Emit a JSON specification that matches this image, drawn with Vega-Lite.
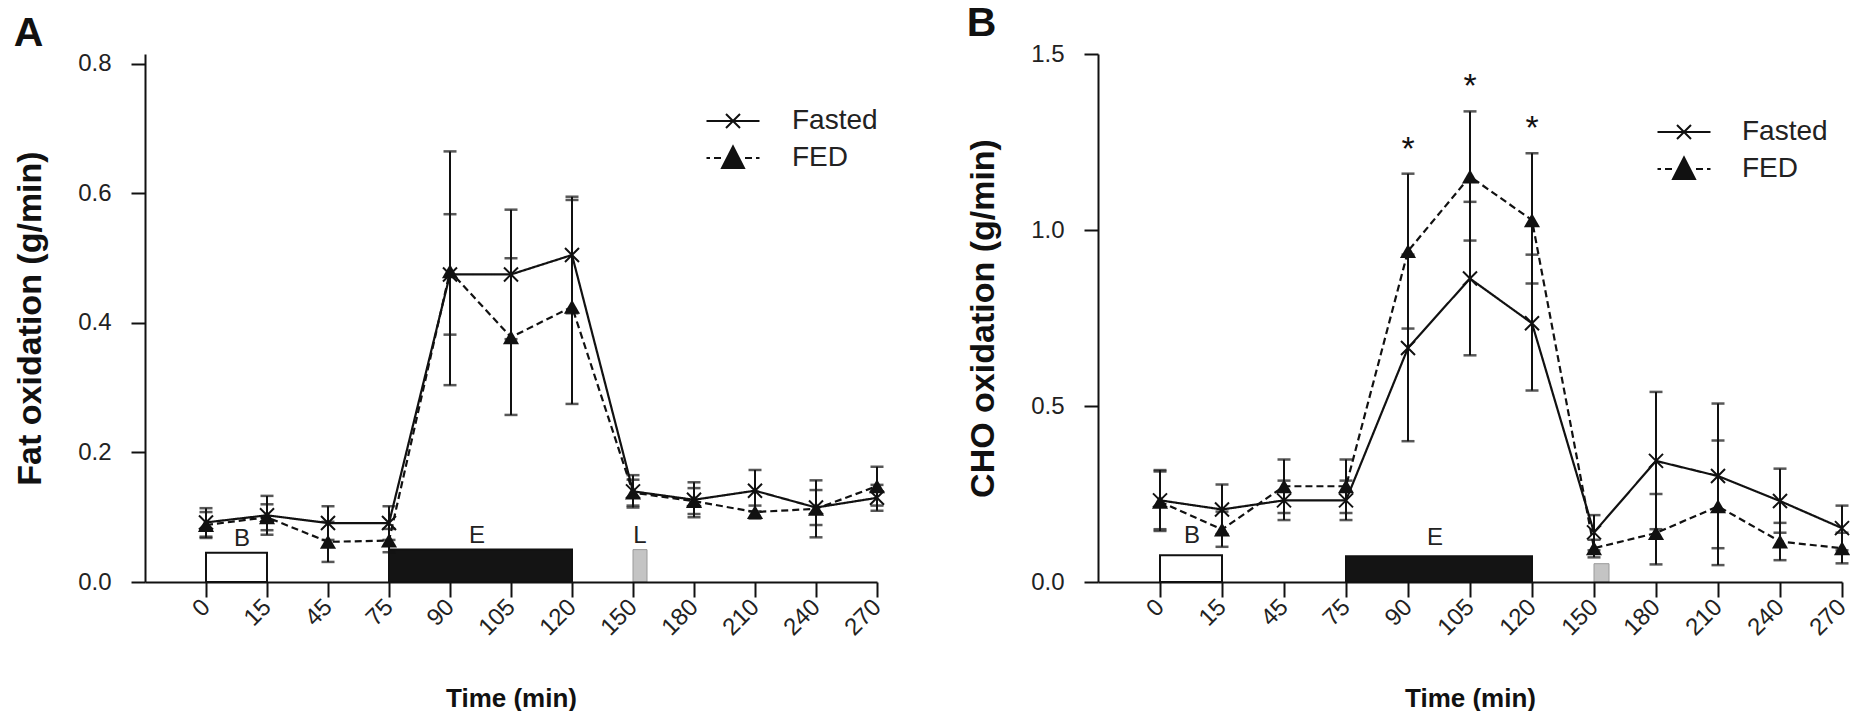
{
  "$schema": "https://vega.github.io/schema/vega-lite/v6.json",
  "background": "white",
  "padding": {"left": 13, "top": 3, "right": 0, "bottom": 0},
  "datasets": {
    "fat": [
      {"t": 0, "series": "Fasted", "v": 0.092, "lo": 0.070, "hi": 0.114},
      {"t": 15, "series": "Fasted", "v": 0.103, "lo": 0.073, "hi": 0.133},
      {"t": 45, "series": "Fasted", "v": 0.091, "lo": 0.065, "hi": 0.117},
      {"t": 75, "series": "Fasted", "v": 0.091, "lo": 0.065, "hi": 0.117},
      {"t": 90, "series": "Fasted", "v": 0.475, "lo": 0.382, "hi": 0.568},
      {"t": 105, "series": "Fasted", "v": 0.475, "lo": 0.375, "hi": 0.575},
      {"t": 120, "series": "Fasted", "v": 0.505, "lo": 0.415, "hi": 0.595},
      {"t": 150, "series": "Fasted", "v": 0.140, "lo": 0.115, "hi": 0.165},
      {"t": 180, "series": "Fasted", "v": 0.127, "lo": 0.100, "hi": 0.154},
      {"t": 210, "series": "Fasted", "v": 0.141, "lo": 0.109, "hi": 0.173},
      {"t": 240, "series": "Fasted", "v": 0.115, "lo": 0.088, "hi": 0.142},
      {"t": 270, "series": "Fasted", "v": 0.130, "lo": 0.110, "hi": 0.150},
      {"t": 0, "series": "FED", "v": 0.088, "lo": 0.068, "hi": 0.108},
      {"t": 15, "series": "FED", "v": 0.100, "lo": 0.080, "hi": 0.120},
      {"t": 45, "series": "FED", "v": 0.062, "lo": 0.031, "hi": 0.093},
      {"t": 75, "series": "FED", "v": 0.064, "lo": 0.046, "hi": 0.082},
      {"t": 90, "series": "FED", "v": 0.480, "lo": 0.304, "hi": 0.665},
      {"t": 105, "series": "FED", "v": 0.378, "lo": 0.258, "hi": 0.500},
      {"t": 120, "series": "FED", "v": 0.425, "lo": 0.275, "hi": 0.590},
      {"t": 150, "series": "FED", "v": 0.138, "lo": 0.118, "hi": 0.158},
      {"t": 180, "series": "FED", "v": 0.125, "lo": 0.105, "hi": 0.145},
      {"t": 210, "series": "FED", "v": 0.108, "lo": 0.098, "hi": 0.118},
      {"t": 240, "series": "FED", "v": 0.113, "lo": 0.069, "hi": 0.157},
      {"t": 270, "series": "FED", "v": 0.148, "lo": 0.118, "hi": 0.178}
    ],
    "cho": [
      {"t": 0, "series": "Fasted", "v": 0.232, "lo": 0.150, "hi": 0.314, "sig": ""},
      {"t": 15, "series": "Fasted", "v": 0.206, "lo": 0.136, "hi": 0.277, "sig": ""},
      {"t": 45, "series": "Fasted", "v": 0.232, "lo": 0.176, "hi": 0.288, "sig": ""},
      {"t": 75, "series": "Fasted", "v": 0.232, "lo": 0.176, "hi": 0.288, "sig": ""},
      {"t": 90, "series": "Fasted", "v": 0.665, "lo": 0.400, "hi": 0.930, "sig": ""},
      {"t": 105, "series": "Fasted", "v": 0.862, "lo": 0.644, "hi": 1.080, "sig": ""},
      {"t": 120, "series": "Fasted", "v": 0.735, "lo": 0.544, "hi": 0.930, "sig": ""},
      {"t": 150, "series": "Fasted", "v": 0.141, "lo": 0.090, "hi": 0.190, "sig": ""},
      {"t": 180, "series": "Fasted", "v": 0.344, "lo": 0.150, "hi": 0.540, "sig": ""},
      {"t": 210, "series": "Fasted", "v": 0.301, "lo": 0.096, "hi": 0.507, "sig": ""},
      {"t": 240, "series": "Fasted", "v": 0.230, "lo": 0.140, "hi": 0.322, "sig": ""},
      {"t": 270, "series": "Fasted", "v": 0.153, "lo": 0.090, "hi": 0.217, "sig": ""},
      {"t": 0, "series": "FED", "v": 0.228, "lo": 0.145, "hi": 0.318, "sig": ""},
      {"t": 15, "series": "FED", "v": 0.149, "lo": 0.100, "hi": 0.200, "sig": ""},
      {"t": 45, "series": "FED", "v": 0.272, "lo": 0.196, "hi": 0.348, "sig": ""},
      {"t": 75, "series": "FED", "v": 0.272, "lo": 0.196, "hi": 0.348, "sig": ""},
      {"t": 90, "series": "FED", "v": 0.940, "lo": 0.720, "hi": 1.160, "sig": "*"},
      {"t": 105, "series": "FED", "v": 1.152, "lo": 0.970, "hi": 1.337, "sig": "*"},
      {"t": 120, "series": "FED", "v": 1.028, "lo": 0.848, "hi": 1.218, "sig": "*"},
      {"t": 150, "series": "FED", "v": 0.096, "lo": 0.070, "hi": 0.120, "sig": ""},
      {"t": 180, "series": "FED", "v": 0.139, "lo": 0.050, "hi": 0.250, "sig": ""},
      {"t": 210, "series": "FED", "v": 0.215, "lo": 0.048, "hi": 0.402, "sig": ""},
      {"t": 240, "series": "FED", "v": 0.115, "lo": 0.062, "hi": 0.168, "sig": ""},
      {"t": 270, "series": "FED", "v": 0.096, "lo": 0.053, "hi": 0.140, "sig": ""}
    ],
    "phasesA": [
      {"lab": "B", "t": 0, "t2": 15, "h": 0.045},
      {"lab": "E", "t": 75, "t2": 120, "h": 0.05},
      {"lab": "L", "t": 150, "t2": 150, "h": 0.05}
    ],
    "phasesB": [
      {"lab": "B", "t": 0, "t2": 15, "h": 0.076},
      {"lab": "E", "t": 75, "t2": 120, "h": 0.073},
      {"lab": "L", "t": 150, "t2": 150, "h": 0.052}
    ]
  },
  "hconcat": [
    {
      "width": 732,
      "height": 528,
      "title": {"text": "A", "anchor": "start", "frame": "bounds", "fontSize": 41, "fontWeight": "bold", "offset": -3, "color": "#111"},
      "layer": [
        {
          "data": {"name": "phasesA"},
          "transform": [{"filter": "datum.lab != 'L'"}],
          "mark": {"type": "rect", "stroke": "#111", "strokeWidth": 2},
          "encoding": {
            "x": {"field": "t", "type": "ordinal", "scale": {"type": "point", "domain": [0, 15, 45, 75, 90, 105, 120, 150, 180, 210, 240, 270], "padding": 0.5, "align": 1},
              "axis": {"title": "Time (min)", "titleFontSize": 26, "titleFontWeight": "bold", "titleY": 124, "titleBaseline": "alphabetic", "labelAngle": -45, "labelAlign": "right", "labelBaseline": "middle", "tickSize": 15, "labelPadding": 6, "labelOverlap": false}},
            "x2": {"field": "t2"},
            "y": {"field": "h", "type": "quantitative", "scale": {"domain": [0, 0.8154], "nice": false, "zero": true},
              "axis": {"title": "Fat oxidation (g/min)", "titleFontSize": 34, "titleFontWeight": "bold", "titlePadding": 30, "values": [0, 0.2, 0.4, 0.6, 0.8], "format": ".1f", "tickSize": 14, "labelPadding": 20, "labelFlush": false}},
            "y2": {"datum": 0},
            "fill": {"field": "lab", "type": "nominal", "scale": {"domain": ["B", "E"], "range": ["white", "#141414"]}, "legend": null}
          }
        },
        {
          "data": {"name": "phasesA"},
          "transform": [{"filter": "datum.lab == 'L'"}],
          "mark": {"type": "rect", "fill": "#c4c4c4", "stroke": "#9a9a9a", "strokeWidth": 1, "x2Offset": 14},
          "encoding": {
            "x": {"field": "t", "type": "ordinal"},
            "x2": {"field": "t2"},
            "y": {"field": "h", "type": "quantitative"},
            "y2": {"datum": 0}
          }
        },
        {
          "data": {"name": "phasesA"},
          "transform": [{"filter": "datum.lab == 'B'"}],
          "mark": {"type": "text", "fontSize": 24, "color": "#222", "dx": 36, "dy": -7, "baseline": "alphabetic"},
          "encoding": {"x": {"field": "t", "type": "ordinal"}, "y": {"field": "h", "type": "quantitative"}, "text": {"field": "lab"}}
        },
        {
          "data": {"name": "phasesA"},
          "transform": [{"filter": "datum.lab == 'E'"}],
          "mark": {"type": "text", "fontSize": 24, "color": "#222", "dx": 88, "dy": -7, "baseline": "alphabetic"},
          "encoding": {"x": {"field": "t", "type": "ordinal"}, "y": {"field": "h", "type": "quantitative"}, "text": {"field": "lab"}}
        },
        {
          "data": {"name": "phasesA"},
          "transform": [{"filter": "datum.lab == 'L'"}],
          "mark": {"type": "text", "fontSize": 24, "color": "#222", "dx": 7, "dy": -7, "baseline": "alphabetic"},
          "encoding": {"x": {"field": "t", "type": "ordinal"}, "y": {"field": "h", "type": "quantitative"}, "text": {"field": "lab"}}
        },
        {
          "data": {"name": "fat"},
          "mark": {"type": "rule", "color": "#111", "strokeWidth": 2},
          "encoding": {"x": {"field": "t", "type": "ordinal"}, "y": {"field": "lo", "type": "quantitative"}, "y2": {"field": "hi"}}
        },
        {
          "data": {"name": "fat"},
          "mark": {"type": "tick", "orient": "horizontal", "color": "#111", "size": 13, "thickness": 2.5},
          "encoding": {"x": {"field": "t", "type": "ordinal"}, "y": {"field": "lo", "type": "quantitative"}}
        },
        {
          "data": {"name": "fat"},
          "mark": {"type": "tick", "orient": "horizontal", "color": "#111", "size": 13, "thickness": 2.5},
          "encoding": {"x": {"field": "t", "type": "ordinal"}, "y": {"field": "hi", "type": "quantitative"}}
        },
        {
          "data": {"name": "fat"},
          "mark": {"type": "line", "color": "#111", "strokeWidth": 2.2},
          "encoding": {
            "x": {"field": "t", "type": "ordinal"},
            "y": {"field": "v", "type": "quantitative"},
            "detail": {"field": "series"},
            "strokeDash": {"field": "series", "type": "nominal", "scale": {"domain": ["Fasted", "FED"], "range": [[1, 0], [7, 4]]}, "legend": null}
          }
        },
        {
          "data": {"name": "fat"},
          "transform": [{"filter": "datum.series == 'FED'"}],
          "mark": {"type": "point", "shape": "triangle-up", "filled": true, "color": "#111", "size": 260, "opacity": 1},
          "encoding": {"x": {"field": "t", "type": "ordinal"}, "y": {"field": "v", "type": "quantitative"}}
        },
        {
          "data": {"name": "fat"},
          "transform": [{"filter": "datum.series == 'Fasted'"}],
          "mark": {"type": "point", "shape": "M-1,-1L1,1M-1,1L1,-1", "filled": false, "color": "#111", "strokeWidth": 2, "size": 196, "opacity": 1},
          "encoding": {"x": {"field": "t", "type": "ordinal"}, "y": {"field": "v", "type": "quantitative"}}
        },
        {
          "data": {"name": "fat"},
          "transform": [{"filter": "datum.t < 0"}],
          "mark": {"type": "point", "filled": false, "color": "#111", "strokeWidth": 2, "opacity": 1},
          "encoding": {
            "shape": {"field": "series", "type": "nominal",
              "scale": {"domain": ["Fasted", "FED"], "range": ["M-2.65,0H2.65M-0.7,-0.7L0.7,0.7M-0.7,0.7L0.7,-0.7", "M-2.65,0H-2.3M-1.9,0H-1.2M1.2,0H1.9M2.3,0H2.65M-1.1,1L0,-1.15L1.1,1ZM-0.13,-0.9H0.13M-0.23,-0.7H0.23M-0.33,-0.5H0.33M-0.44,-0.3H0.44M-0.54,-0.1H0.54M-0.64,0.1H0.64M-0.74,0.3H0.74M-0.84,0.5H0.84M-0.95,0.7H0.95M-1.05,0.9H1.05"]},
              "legend": {"title": null, "orient": "none", "legendX": 574, "legendY": 53, "padding": 0, "symbolSize": 400, "symbolStrokeWidth": 2, "symbolStrokeColor": "#111", "labelFontSize": 28, "labelColor": "#222", "labelOffset": 45, "rowPadding": 7}}
          }
        }
      ]
    },
    {
      "width": 744,
      "height": 528,
      "title": {"text": "B", "anchor": "start", "frame": "bounds", "fontSize": 41, "fontWeight": "bold", "offset": -3, "color": "#111"},
      "layer": [
        {
          "data": {"name": "phasesB"},
          "transform": [{"filter": "datum.lab != 'L'"}],
          "mark": {"type": "rect", "stroke": "#111", "strokeWidth": 2},
          "encoding": {
            "x": {"field": "t", "type": "ordinal", "scale": {"type": "point", "domain": [0, 15, 45, 75, 90, 105, 120, 150, 180, 210, 240, 270], "padding": 0.5, "align": 1},
              "axis": {"title": "Time (min)", "titleFontSize": 26, "titleFontWeight": "bold", "titleY": 124, "titleBaseline": "alphabetic", "labelAngle": -45, "labelAlign": "right", "labelBaseline": "middle", "tickSize": 15, "labelPadding": 6, "labelOverlap": false}},
            "x2": {"field": "t2"},
            "y": {"field": "h", "type": "quantitative", "scale": {"domain": [0, 1.5], "nice": false, "zero": true},
              "axis": {"title": "CHO oxidation (g/min)", "titleFontSize": 34, "titleFontWeight": "bold", "titlePadding": 30, "values": [0, 0.5, 1.0, 1.5], "format": ".1f", "tickSize": 14, "labelPadding": 20, "labelFlush": false}},
            "y2": {"datum": 0},
            "fill": {"field": "lab", "type": "nominal", "scale": {"domain": ["B", "E"], "range": ["white", "#141414"]}, "legend": null}
          }
        },
        {
          "data": {"name": "phasesB"},
          "transform": [{"filter": "datum.lab == 'L'"}],
          "mark": {"type": "rect", "fill": "#c4c4c4", "stroke": "#9a9a9a", "strokeWidth": 1, "x2Offset": 15},
          "encoding": {
            "x": {"field": "t", "type": "ordinal"},
            "x2": {"field": "t2"},
            "y": {"field": "h", "type": "quantitative"},
            "y2": {"datum": 0}
          }
        },
        {
          "data": {"name": "phasesB"},
          "transform": [{"filter": "datum.lab == 'B'"}],
          "mark": {"type": "text", "fontSize": 24, "color": "#222", "dx": 32, "dy": -12, "baseline": "alphabetic"},
          "encoding": {"x": {"field": "t", "type": "ordinal"}, "y": {"field": "h", "type": "quantitative"}, "text": {"field": "lab"}}
        },
        {
          "data": {"name": "phasesB"},
          "transform": [{"filter": "datum.lab == 'E'"}],
          "mark": {"type": "text", "fontSize": 24, "color": "#222", "dx": 89, "dy": -11, "baseline": "alphabetic"},
          "encoding": {"x": {"field": "t", "type": "ordinal"}, "y": {"field": "h", "type": "quantitative"}, "text": {"field": "lab"}}
        },
        {
          "data": {"name": "cho"},
          "mark": {"type": "rule", "color": "#111", "strokeWidth": 2},
          "encoding": {"x": {"field": "t", "type": "ordinal"}, "y": {"field": "lo", "type": "quantitative"}, "y2": {"field": "hi"}}
        },
        {
          "data": {"name": "cho"},
          "mark": {"type": "tick", "orient": "horizontal", "color": "#111", "size": 13, "thickness": 2.5},
          "encoding": {"x": {"field": "t", "type": "ordinal"}, "y": {"field": "lo", "type": "quantitative"}}
        },
        {
          "data": {"name": "cho"},
          "mark": {"type": "tick", "orient": "horizontal", "color": "#111", "size": 13, "thickness": 2.5},
          "encoding": {"x": {"field": "t", "type": "ordinal"}, "y": {"field": "hi", "type": "quantitative"}}
        },
        {
          "data": {"name": "cho"},
          "transform": [{"filter": "datum.series == 'FED'"}],
          "mark": {"type": "text", "fontSize": 34, "color": "#111", "dy": -14, "baseline": "alphabetic"},
          "encoding": {"x": {"field": "t", "type": "ordinal"}, "y": {"field": "hi", "type": "quantitative"}, "text": {"field": "sig"}}
        },
        {
          "data": {"name": "cho"},
          "mark": {"type": "line", "color": "#111", "strokeWidth": 2.2},
          "encoding": {
            "x": {"field": "t", "type": "ordinal"},
            "y": {"field": "v", "type": "quantitative"},
            "detail": {"field": "series"},
            "strokeDash": {"field": "series", "type": "nominal", "scale": {"domain": ["Fasted", "FED"], "range": [[1, 0], [7, 4]]}, "legend": null}
          }
        },
        {
          "data": {"name": "cho"},
          "transform": [{"filter": "datum.series == 'FED'"}],
          "mark": {"type": "point", "shape": "triangle-up", "filled": true, "color": "#111", "size": 260, "opacity": 1},
          "encoding": {"x": {"field": "t", "type": "ordinal"}, "y": {"field": "v", "type": "quantitative"}}
        },
        {
          "data": {"name": "cho"},
          "transform": [{"filter": "datum.series == 'Fasted'"}],
          "mark": {"type": "point", "shape": "M-1,-1L1,1M-1,1L1,-1", "filled": false, "color": "#111", "strokeWidth": 2, "size": 196, "opacity": 1},
          "encoding": {"x": {"field": "t", "type": "ordinal"}, "y": {"field": "v", "type": "quantitative"}}
        },
        {
          "data": {"name": "cho"},
          "transform": [{"filter": "datum.t < 0"}],
          "mark": {"type": "point", "filled": false, "color": "#111", "strokeWidth": 2, "opacity": 1},
          "encoding": {
            "shape": {"field": "series", "type": "nominal",
              "scale": {"domain": ["Fasted", "FED"], "range": ["M-2.65,0H2.65M-0.7,-0.7L0.7,0.7M-0.7,0.7L0.7,-0.7", "M-2.65,0H-2.3M-1.9,0H-1.2M1.2,0H1.9M2.3,0H2.65M-1.1,1L0,-1.15L1.1,1ZM-0.13,-0.9H0.13M-0.23,-0.7H0.23M-0.33,-0.5H0.33M-0.44,-0.3H0.44M-0.54,-0.1H0.54M-0.64,0.1H0.64M-0.74,0.3H0.74M-0.84,0.5H0.84M-0.95,0.7H0.95M-1.05,0.9H1.05"]},
              "legend": {"title": null, "orient": "none", "legendX": 572, "legendY": 64, "padding": 0, "symbolSize": 400, "symbolStrokeWidth": 2, "symbolStrokeColor": "#111", "labelFontSize": 28, "labelColor": "#222", "labelOffset": 44, "rowPadding": 7}}
          }
        }
      ]
    }
  ],
  "resolve": {"scale": {"x": "independent", "y": "independent", "shape": "independent"}, "legend": {"shape": "independent"}},
  "config": {
    "font": "Liberation Sans",
    "view": {"stroke": null},
    "concat": {"spacing": 78},
    "axis": {"grid": false, "domainColor": "#111", "domainWidth": 2, "tickColor": "#111", "tickWidth": 2, "labelFont": "Liberation Sans", "labelFontSize": 24, "labelColor": "#222", "titleFont": "Liberation Sans", "titleColor": "#111"},
    "legend": {"labelFont": "Liberation Sans"},
    "title": {"font": "Liberation Sans"}
  }
}
